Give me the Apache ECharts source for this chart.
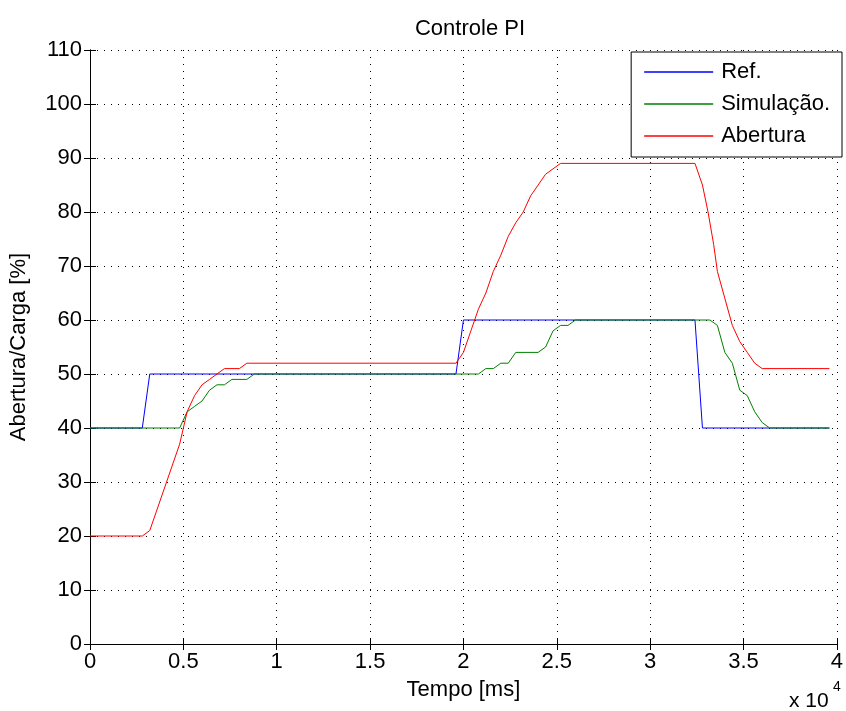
<!DOCTYPE html>
<html>
<head>
<meta charset="utf-8">
<script src="https://cdn.jsdelivr.net/npm/echarts@6/dist/echarts.min.js"></script>
<style>
  html, body { margin: 0; padding: 0; background: #fff; }
  #chart { width: 846px; height: 711px; }
</style>
</head>
<body>
<div id="chart"></div>
<script>
// tempos em ms, valores em %
var refT = [0, 2800, 3200, 19600, 20000, 32400, 32800, 39600];
var refV = [40, 40, 50, 50, 60, 60, 40, 40];

var simT = [0, 4800, 5200, 5600, 6000, 6400, 6800, 7200, 7600, 8400, 8800,
    20800, 21200, 21600, 22000, 22400, 22800,
    24000, 24400, 24800, 25200, 25600, 26000,
    33200, 33600, 34000, 34400, 34800, 35200, 35600, 36000, 36400, 39600];
var simV = [40, 40, 43, 44, 45, 47, 48, 48, 49, 49, 50,
    50, 51, 51, 52, 52, 54,
    54, 55, 58, 59, 59, 60,
    60, 59, 54, 52, 47, 46, 43, 41, 40, 40];

var abT = [0, 2800, 3200, 4800, 5200, 5600, 6000, 6400, 6800, 7200, 8000, 8400,
    19600, 20000, 20400, 20800, 21200, 21600, 22000, 22400, 22800, 23200, 23600, 24000, 24400, 24800, 25200,
    32400, 32800, 33100, 33400, 33600, 34000, 34400, 34800, 35200, 35600, 36000, 39600];
var abV = [20, 20, 21, 37, 43, 46, 48, 49, 50, 51, 51, 52,
    52, 54, 58, 62, 65, 69, 72, 75.5, 78, 80, 83, 85, 87, 88, 89,
    89, 85, 80, 74, 69, 64, 59, 56, 54, 52, 51, 51];

function pares(t, v) {
    var out = [];
    for (var i = 0; i < t.length; i++) {
        out.push([t[i], v[i]]);
    }
    return out;
}

var fonte = 'Liberation Sans, Arial, sans-serif';
var myChart = echarts.init(document.getElementById('chart'));

var grade = {
    show: true,
    lineStyle: {color: '#000', width: 1, type: [1, 6]}
};

var option = {
    animation: false,
    backgroundColor: '#fff',
    title: {
        text: 'Controle PI',
        left: 465,
        top: 13,
        textAlign: 'center',
        textStyle: {fontFamily: fonte, fontSize: 22, fontWeight: 'normal', color: '#000'}
    },
    grid: {
        left: 90,
        right: 6,
        top: 50,
        bottom: 67
    },
    legend: {
        orient: 'vertical',
        right: 4,
        top: 52,
        data: ['Ref.', 'Simulação.', 'Abertura'],
        icon: 'rect',
        itemWidth: 69,
        itemHeight: 1.5,
        itemGap: 10,
        padding: [9, 12, 10, 13],
        borderColor: '#000',
        borderWidth: 1,
        backgroundColor: '#fff',
        textStyle: {fontFamily: fonte, fontSize: 22, color: '#000', padding: [0, 0, 0, 3]}
    },
    xAxis: [
        {
            type: 'value',
            min: 0,
            max: 40000,
            interval: 5000,
            name: 'Tempo [ms]',
            nameLocation: 'middle',
            nameGap: 35,
            nameTextStyle: {fontFamily: fonte, fontSize: 22, color: '#000'},
            axisLine: {show: true, lineStyle: {color: '#000', width: 1}},
            axisTick: {show: true, inside: true, length: 6, lineStyle: {color: '#000'}},
            axisLabel: {
                fontFamily: fonte, fontSize: 22, color: '#000', margin: 7,
                formatter: function (v) { return String(v / 10000); }
            },
            splitLine: grade
        },
        {
            type: 'value',
            position: 'top',
            min: 0,
            max: 40000,
            interval: 5000,
            axisLine: {show: true, lineStyle: {color: '#000', width: 1}},
            axisTick: {show: true, inside: true, length: 6, lineStyle: {color: '#000'}},
            axisLabel: {show: false},
            splitLine: {show: false}
        }
    ],
    yAxis: [
        {
            type: 'value',
            min: 0,
            max: 110,
            interval: 10,
            name: 'Abertura/Carga [%]',
            nameLocation: 'middle',
            nameGap: 60,
            nameTextStyle: {fontFamily: fonte, fontSize: 22, color: '#000'},
            axisLine: {show: true, lineStyle: {color: '#000', width: 1}},
            axisTick: {show: true, inside: true, length: 6, lineStyle: {color: '#000'}},
            axisLabel: {fontFamily: fonte, fontSize: 22, color: '#000', margin: 8},
            splitLine: grade
        },
        {
            type: 'value',
            position: 'right',
            min: 0,
            max: 110,
            interval: 10,
            axisLine: {show: true, lineStyle: {color: '#000', width: 1}},
            axisTick: {show: true, inside: true, length: 6, lineStyle: {color: '#000'}},
            axisLabel: {show: false},
            splitLine: {show: false}
        }
    ],
    graphic: [
        {
            type: 'text',
            left: 789,
            top: 691,
            style: {text: 'x 10', fontFamily: fonte, fontSize: 21, fill: '#000'}
        },
        {
            type: 'text',
            left: 833,
            top: 680,
            style: {text: '4', fontFamily: fonte, fontSize: 14, fill: '#000'}
        }
    ],
    series: [
        {
            name: 'Ref.',
            type: 'line',
            data: pares(refT, refV),
            showSymbol: false,
            symbol: 'none',
            itemStyle: {color: '#0000ff'},
            lineStyle: {color: '#0000ff', width: 1}
        },
        {
            name: 'Simulação.',
            type: 'line',
            data: pares(simT, simV),
            showSymbol: false,
            symbol: 'none',
            itemStyle: {color: '#008000'},
            lineStyle: {color: '#008000', width: 1}
        },
        {
            name: 'Abertura',
            type: 'line',
            data: pares(abT, abV),
            showSymbol: false,
            symbol: 'none',
            itemStyle: {color: '#ff0000'},
            lineStyle: {color: '#ff0000', width: 1}
        }
    ]
};

myChart.setOption(option);
</script>
</body>
</html>
